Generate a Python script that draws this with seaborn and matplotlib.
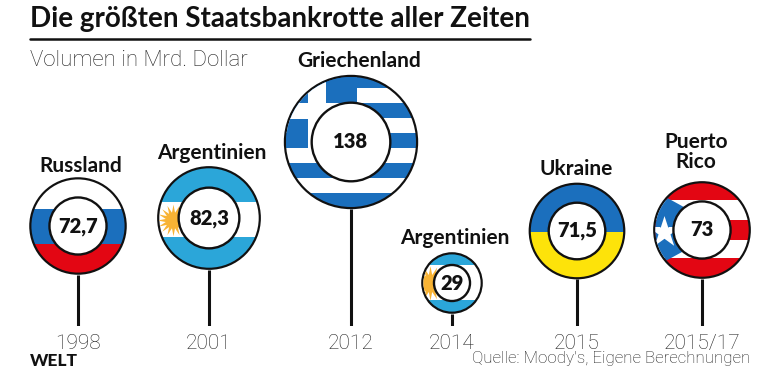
import matplotlib
matplotlib.use("Agg")
import numpy as np
import pandas as pd
import seaborn as sns
import matplotlib.pyplot as plt
from matplotlib.patches import Circle, Rectangle, Polygon

laender = ['Russland', 'Argentinien', 'Griechenland', 'Argentinien', 'Ukraine', 'Puerto\nRico']
volumen = [72.7, 82.3, 138, 29, 71.5, 73]
jahre = ['1998', '2001', '2012', '2014', '2015', '2015/17']

# layout, in pixels of the 780x373 picture
x_pos = [78, 209, 351, 452, 577, 702]
y_pos = [226, 218, 142, 283, 231, 230]
label_x = [81, 212, 359, 455, 576, 696]
label_y = [166, 153, 61, 238, 169, 152]

BASE = 326
K = 5.72  # radius in px per sqrt(volume)
BLUE = '#1b6fbd'
RED = '#e30613'
CYAN = '#2ba6d9'
SUN = '#f8b334'
YELLOW = '#fde30a'
GREY = '#222222'
LIGHT = 'Roboto'

sns.set_style("white")
plt.rcParams['font.family'] = ['Lato', 'DejaVu Sans']

df = pd.DataFrame({'land': laender, 'volumen': volumen, 'x': x_pos, 'y': y_pos})
df['r'] = K * np.sqrt(df['volumen'])

fig = plt.figure(figsize=(7.8, 3.73), dpi=100)
ax = fig.add_axes([0, (373 - BASE) / 373, 1, BASE / 373])
ax.set_xlim(0, 780)
ax.set_ylim(BASE, 0)

# stems
ax.vlines(df['x'], df['y'] + df['r'], BASE, color='#111111', lw=2.2, zorder=0)

# marker area grows with the volume, px -> pt at 100 dpi
area = (2 * K * 0.72) ** 2
size_range = (area * min(volumen), area * max(volumen))
sns.scatterplot(data=df, x='x', y='y', size='volumen', sizes=size_range, color='#111111',
                linewidth=0, legend=False, ax=ax, zorder=1)


def flag_parts(i, parts, z=2):
    row = df.iloc[i]
    clip = Circle((row['x'], row['y']), row['r'] - 2.2, transform=ax.transData)
    for p in parts:
        if not hasattr(p, 'get_offsets'):
            ax.add_patch(p)
        p.set_zorder(z)
        p.set_clip_path(clip)


def band(y0, y1, color, x0=0, x1=780):
    return Rectangle((x0, y0), x1 - x0, y1 - y0, fc=color, ec='none')


def sun(x, y, s):
    return ax.scatter([x], [y], s=s, marker=(16, 1, 0), c=SUN, linewidths=0)


# Russland
flag_parts(0, [band(170, 209, 'white'), band(209, 244, BLUE), band(244, 290, RED)])
# Argentinien 2001
flag_parts(1, [band(160, 202, CYAN), band(202, 237, 'white'), band(237, 280, CYAN)])
flag_parts(1, [sun(173, 220, 520)], z=2.5)
# Griechenland
flag_parts(2, [band(70, 88, BLUE), band(88, 103, 'white'), band(103, 118, BLUE),
               band(118, 133, 'white'), band(133, 148, BLUE), band(148, 163, 'white'),
               band(163, 178, BLUE), band(178, 193, 'white'), band(193, 215, BLUE)])
flag_parts(2, [band(70, 148, BLUE, 270, 357)], z=2.2)
flag_parts(2, [band(70, 148, 'white', 308, 326), band(103, 119, 'white', 270, 357)], z=2.4)
# Argentinien 2014
flag_parts(3, [band(250, 265, CYAN), band(265, 300, 'white'), band(300, 316, CYAN)])
flag_parts(3, [sun(430, 283, 620)], z=2.5)
# Ukraine
flag_parts(4, [band(180, 232, BLUE), band(232, 282, YELLOW)])
# Puerto Rico
flag_parts(5, [band(178, 200, RED), band(200, 220, 'white'), band(220, 240, RED),
               band(240, 258, 'white'), band(258, 282, RED)])
flag_parts(5, [Polygon([(640, 183), (724, 229), (640, 275)], fc=BLUE, ec='none')], z=2.2)
star = ax.scatter([664], [232], s=560, marker='*', c='white', linewidths=0)
flag_parts(5, [star], z=2.5)

# inner disc with the value
inner = 0.585 ** 2
sns.scatterplot(data=df, x='x', y='y', size='volumen',
                sizes=(size_range[0] * inner, size_range[1] * inner), color='white',
                edgecolor='#111111', linewidth=1.7, legend=False, ax=ax, zorder=3)

for i, row in df.iterrows():
    txt = f"{row['volumen']:g}".replace('.', ',')
    ax.text(row['x'], row['y'], txt, ha='center', va='center', fontsize=14.5,
            fontweight='heavy', color='#111111', zorder=4)
    ax.text(label_x[i], label_y[i], row['land'], ha='center', va='center', fontsize=15,
            fontweight='bold', color='#111111', linespacing=1.05)

# years as real tick labels on the baseline
ax.set_xticks(x_pos, labels=jahre)
ax.set_yticks([])
ax.tick_params(axis='x', length=0, pad=6, labelsize=15, labelcolor=GREY)
for lab in ax.get_xticklabels():
    lab.set_fontfamily(LIGHT)
    lab.set_fontweight('light')
ax.set_xlabel('')
ax.set_ylabel('')
sns.despine(ax=ax, left=True, bottom=True)
ax.patch.set_alpha(0)

# header and footer
fig.text(30 / 780, 1 - 19 / 373, 'Die größten Staatsbankrotte aller Zeiten', fontsize=20,
         fontweight='bold', color='#111111', ha='left', va='center')
fig.add_artist(plt.Line2D([30 / 780, 530 / 780], [1 - 39 / 373] * 2, color='#111111', lw=1.8))
fig.text(30 / 780, 1 - 60 / 373, 'Volumen in Mrd. Dollar', fontsize=16, family=LIGHT,
         fontweight='light', color=GREY, ha='left', va='center')
fig.text(30 / 780, 1 - 361 / 373, 'WELT', fontsize=12.5, fontweight='black', color='#111111',
         ha='left', va='center')
fig.text(750 / 780, 1 - 359 / 373, "Quelle: Moody's, Eigene Berechnungen", fontsize=12.2,
         family=LIGHT, fontweight='light', color=GREY, ha='right', va='center')

fig.savefig('out.png', dpi=100)
